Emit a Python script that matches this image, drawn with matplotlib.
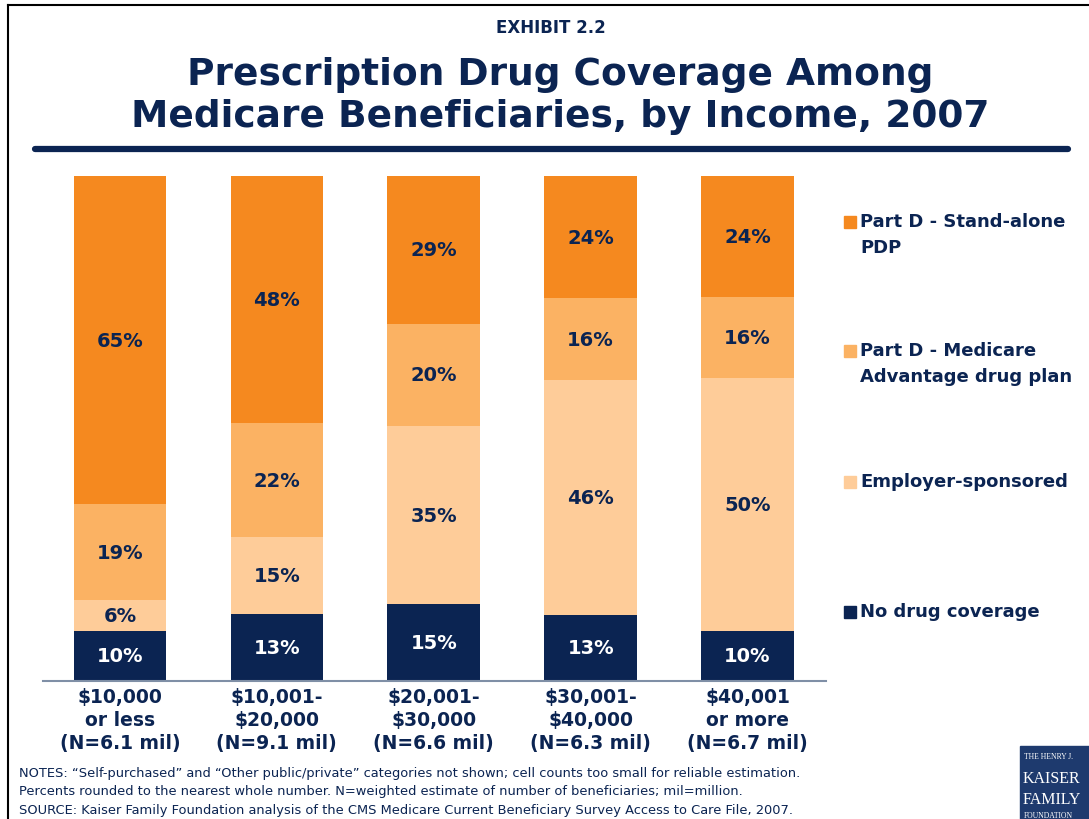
import matplotlib
matplotlib.use("Agg")
import matplotlib.pyplot as plt
from matplotlib.patches import Rectangle
from matplotlib.lines import Line2D
import numpy as np

categories = ["$10,000\nor less\n(N=6.1 mil)", "$10,001-\n$20,000\n(N=9.1 mil)",
              "$20,001-\n$30,000\n(N=6.6 mil)", "$30,001-\n$40,000\n(N=6.3 mil)",
              "$40,001\nor more\n(N=6.7 mil)"]
series_names = ["No drug coverage", "Employer-sponsored",
                "Part D - Medicare\nAdvantage drug plan", "Part D - Stand-alone\nPDP"]
no_coverage = [10, 13, 15, 13, 10]
employer = [6, 15, 35, 46, 50]
medicare_adv = [19, 22, 20, 16, 16]
standalone = [65, 48, 29, 24, 24]

colors = ["#0B2452", "#FECC99", "#FBB263", "#F5891F"]
navy = "#0B2452"

fig = plt.figure(figsize=(10.89, 8.2), dpi=100)
W, H = 1089, 820

def fx(x): return x / W
def fy(y): return 1 - y / H

ax = fig.add_axes([fx(43), fy(682), fx(826) - fx(43), fy(177) - fy(682)])
series = [no_coverage, employer, medicare_adv, standalone]
data = np.array(series, dtype=float)
totals = data.sum(axis=0)
norm = data / totals * 100
x = np.arange(len(categories))
bottom = np.zeros(len(categories))
for i, (vals, raw) in enumerate(zip(norm, series)):
    ax.bar(x, vals, 0.59, bottom=bottom, color=colors[i], edgecolor="none")
    for xi, v, b, r in zip(x, vals, bottom, raw):
        ax.text(xi, b + v / 2, f"{r}%", ha="center", va="center",
                fontsize=14, fontweight="bold",
                color="white" if i == 0 else navy)
    bottom += vals

ax.set_xlim(-0.49, 4.5)
ax.set_ylim(0, 100)
for s in ["top", "right", "left"]:
    ax.spines[s].set_visible(False)
ax.spines["bottom"].set_color("#7F8FA6")
ax.spines["bottom"].set_linewidth(1.5)
ax.set_yticks([])
ax.set_xticks(x)
ax.set_xticklabels(categories, fontsize=13.5, fontweight="bold", color=navy,
                   linespacing=1.28)
ax.tick_params(axis="x", length=0, pad=4)

# Legend (manual)
leg_items = [("Part D - Stand-alone\nPDP", colors[3], 223),
             ("Part D - Medicare\nAdvantage drug plan", colors[2], 352),
             ("Employer-sponsored", colors[1], 483),
             ("No drug coverage", colors[0], 613)]
for label, c, ytop in leg_items:
    fig.patches.append(Rectangle((fx(844), fy(ytop + 6)), fx(12), 12 / H,
                                 transform=fig.transFigure, color=c))
    fig.text(fx(860), fy(ytop - 10), label, ha="left", va="top", fontsize=13,
             fontweight="bold", color=navy, linespacing=1.55)

# Titles
fig.text(fx(551), fy(28), "EXHIBIT 2.2", ha="center", va="center",
         fontsize=12, fontweight="bold", color=navy)
fig.text(fx(560), fy(96), "Prescription Drug Coverage Among\nMedicare Beneficiaries, by Income, 2007",
         ha="center", va="center", fontsize=27, fontweight="bold", color=navy,
         linespacing=1.18)
fig.add_artist(Line2D([fx(35), fx(1068)], [fy(150), fy(150)], color=navy,
                      linewidth=4.5, solid_capstyle="round",
                      transform=fig.transFigure))

# Frame
fig.add_artist(Line2D([fx(8), fx(1089)], [fy(6), fy(6)], color="black",
                      linewidth=1.5, transform=fig.transFigure))
fig.add_artist(Line2D([fx(8), fx(8)], [fy(6), fy(820)], color="black",
                      linewidth=1.5, transform=fig.transFigure))

# Notes
notes = ("NOTES: \u201cSelf-purchased\u201d and \u201cOther public/private\u201d categories not shown; cell counts too small for reliable estimation.\n"
         "Percents rounded to the nearest whole number. N=weighted estimate of number of beneficiaries; mil=million.\n"
         "SOURCE: Kaiser Family Foundation analysis of the CMS Medicare Current Beneficiary Survey Access to Care File, 2007.")
fig.text(fx(19), fy(767), notes, ha="left", va="top", fontsize=9.4,
         color=navy, family="DejaVu Sans", linespacing=1.55)

# Logo
fig.patches.append(Rectangle((fx(1020), 0), fx(75), fy(747),
                             transform=fig.transFigure, color="#1E3A6E"))
fig.text(fx(1024), fy(757), "THE HENRY J.", fontsize=5.5, color="white",
         family="Liberation Serif", va="center", ha="left")
fig.text(fx(1023), fy(779), "KAISER", fontsize=11.5, color="white",
         family="Liberation Serif", va="center", ha="left")
fig.text(fx(1023), fy(800), "FAMILY", fontsize=11.5, color="white",
         family="Liberation Serif", va="center", ha="left")
fig.text(fx(1024), fy(816), "FOUNDATION", fontsize=5.5, color="white",
         family="Liberation Serif", va="center", ha="left")

fig.savefig("out.png", dpi=100, facecolor="white")
